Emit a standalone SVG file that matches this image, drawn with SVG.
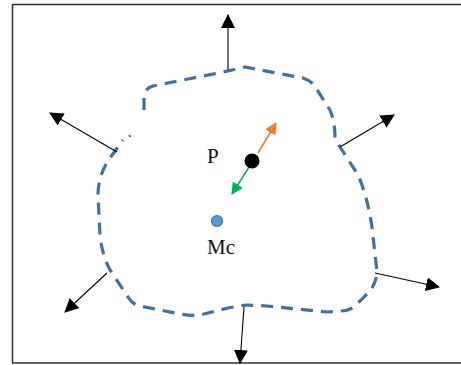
<svg xmlns="http://www.w3.org/2000/svg" width="461" height="365" viewBox="0 0 461 365">
<style>
.frame{fill:#fff;stroke:#333;stroke-width:1.5}
.contour{fill:none;stroke:#41719C;stroke-width:3.2;stroke-dasharray:12 8;stroke-linejoin:round}
.arr{fill:none;stroke:#000;stroke-width:1.1}
.lbl{font-family:"Liberation Serif","Times New Roman",serif;font-size:21px;fill:#111}
</style>
<defs>
<marker id="hk" markerUnits="userSpaceOnUse" markerWidth="14" markerHeight="14" viewBox="0 0 14 14" refX="13" refY="7" orient="auto"><path d="M0,0 L14,7 L0,14 Z" fill="#000"/></marker>
<marker id="ho" markerUnits="userSpaceOnUse" markerWidth="12" markerHeight="12" viewBox="0 0 12 12" refX="11" refY="6" orient="auto"><path d="M0,0 L12,6 L0,12 Z" fill="#ED7D31"/></marker>
<marker id="hg" markerUnits="userSpaceOnUse" markerWidth="12" markerHeight="12" viewBox="0 0 12 12" refX="11" refY="6" orient="auto"><path d="M0,0 L12,6 L0,12 Z" fill="#00B050"/></marker>
</defs>
<rect class="frame" x="12.5" y="4.5" width="460" height="358.5"/>
<g id="contour">
<path class="contour" d="M144,110 L144,97 Q145,88 153,86 L228,71 L245,67 L303,78 Q312,81 316,88 L330,110 Q335,122 335,137 Q337,143 342,150 L358,175 Q367,195 372,227 L377,272 Q376,285 368,293 L356,305 Q350,311 340,311 L327,312 L267,306 L247,305 Q238,306 228,308 L200,315 Q190,316 180,314 L140,306 Q133,305 128,297 L110,270 Q102,255 100,235 L98,195 Q98,175 110,158 L123,140"/>
<line x1="129" y1="135" x2="130.5" y2="137" stroke="#41719C" stroke-width="2"/>
</g>
<g id="connectors">
<line class="arr" x1="228" y1="70" x2="228" y2="15" marker-end="url(#hk)"/>
<line class="arr" x1="117" y1="152" x2="50" y2="113" marker-end="url(#hk)"/>
<line class="arr" x1="340" y1="147" x2="394" y2="115" marker-end="url(#hk)"/>
<line class="arr" x1="375" y1="273" x2="439" y2="287" marker-end="url(#hk)"/>
<line class="arr" x1="107" y1="273" x2="65" y2="312" marker-end="url(#hk)"/>
<line class="arr" x1="244" y1="307" x2="240" y2="363" marker-end="url(#hk)"/>
<line x1="258" y1="153" x2="276" y2="123" stroke="#ED7D31" stroke-width="1.5" marker-end="url(#ho)"/>
<line x1="249" y1="167" x2="232" y2="194" stroke="#00B050" stroke-width="1.5" marker-end="url(#hg)"/>
</g>
<g id="P">
<circle cx="252" cy="161" r="7.5" fill="#000"/>
<text class="lbl" x="207" y="163">P</text>
</g>
<g id="Mc">
<circle cx="217" cy="221" r="5.5" fill="#5B9BD5" stroke="#41719C" stroke-width="1.2"/>
<text class="lbl" x="207" y="254">Mc</text>
</g>
</svg>
